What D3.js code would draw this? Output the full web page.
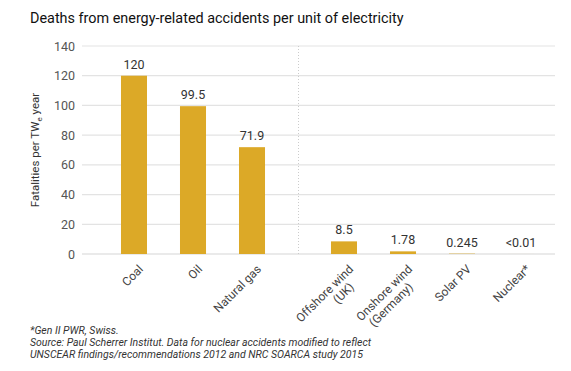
<!DOCTYPE html>
<html>
<head>
<meta charset="utf-8">
<script src="https://cdn.jsdelivr.net/npm/d3@7"></script>
<style>
  body { margin: 0; background: #fff; }
  svg { font-family: Roboto, "Noto Sans", sans-serif; }
</style>
</head>
<body>
<svg id="chart" width="571" height="371"></svg>
<script>
// fossil and renewable/nuclear groups, split by the dotted line
const groupA = ["Coal", "Oil", "Natural gas"];
const groupB = ["Offshore wind\n(UK)", "Onshore wind\n(Germany)", "Solar PV", "Nuclear*"];
const valuesA = [120, 99.5, 71.9];
const valuesB = [8.5, 1.78, 0.245, 0.01];
const labelsA = ["120", "99.5", "71.9"];
const labelsB = ["8.5", "1.78", "0.245", "<0.01"];
const yTicks = [0, 20, 40, 60, 80, 100, 120, 140];

const svg = d3.select("#chart");
const barColor = "#dca927";

const y = d3.scaleLinear().domain([0, 140]).range([254, 46]);
const xA = d3.scaleBand().domain(groupA).range([88, 298]).padding(0.559);
const xB = d3.scaleBand().domain(groupB).range([298, 567]).padding(0.559);

svg.append("text")
    .attr("x", 30).attr("y", 23)
    .attr("font-size", 14.4).attr("fill", "#111")
    .text("Deaths from energy-related accidents per unit of electricity");

// grid + y axis labels
const yAxis = d3.axisLeft(y).tickValues(yTicks).tickSize(0).tickPadding(7);
const gy = svg.append("g").attr("transform", "translate(82,0)").call(yAxis);
gy.select(".domain").remove();
gy.selectAll("text").attr("font-size", 12.5).attr("fill", "#555").attr("font-family", "Roboto");
svg.append("g").selectAll("line").data(yTicks).join("line")
    .attr("x1", 82).attr("x2", 555)
    .attr("y1", d => y(d)).attr("y2", d => y(d))
    .attr("stroke", d => d === 0 ? "#d6d6d6" : "#e3e3e3").attr("stroke-width", 1.2);

svg.append("line")
    .attr("x1", 298.5).attr("x2", 298.5).attr("y1", y(140)).attr("y2", y(0))
    .attr("stroke", "#ccc").attr("stroke-dasharray", "1,2");

const yl = svg.append("text")
    .attr("transform", "translate(39,150) rotate(-90)")
    .attr("text-anchor", "middle").attr("font-size", 11.5).attr("fill", "#333");
yl.append("tspan").text("Fatalities per TW");
yl.append("tspan").attr("font-size", 8).attr("dy", 3).text("e");
yl.append("tspan").attr("dy", -3).text(" year");

function drawGroup(x, cats, vals, labels) {
  const g = svg.append("g");
  g.selectAll("rect").data(cats).join("rect")
      .attr("x", d => x(d)).attr("width", x.bandwidth())
      .attr("y", (d, i) => y(vals[i]))
      .attr("height", (d, i) => y(0) - y(vals[i]))
      .attr("fill", barColor);
  g.selectAll(".val").data(cats).join("text")
      .attr("class", "val")
      .attr("x", d => x(d) + x.bandwidth() / 2)
      .attr("y", (d, i) => y(vals[i]) - 7)
      .attr("text-anchor", "middle").attr("font-size", 12.5).attr("fill", "#333")
      .text((d, i) => labels[i]);
  const lab = g.selectAll(".cat").data(cats).join("text")
      .attr("class", "cat")
      .attr("transform", d => `translate(${x(d) + x.bandwidth() / 2 + 4},264) rotate(-45)`)
      .attr("text-anchor", "end").attr("font-size", 12).attr("fill", "#444");
  lab.each(function (d) {
    const t = d3.select(this);
    d.split("\n").forEach((l, i) => {
      t.append("tspan").attr("x", 0).attr("dy", i === 0 ? "0.7em" : "1.1em")
        .attr("dx", i === 0 ? 0 : -12)
        .text(l);
    });
  });
}
drawGroup(xA, groupA, valuesA, labelsA);
drawGroup(xB, groupB, valuesB, labelsB);

const notes = ["*Gen II PWR, Swiss.",
  "Source: Paul Scherrer Institut. Data for nuclear accidents modified to reflect",
  "UNSCEAR findings/recommendations 2012 and NRC SOARCA study 2015"];
svg.append("g").selectAll("text").data(notes).join("text")
    .attr("x", 30).attr("y", (d, i) => 334 + i * 12)
    .attr("font-size", 10.5).attr("font-style", "italic").attr("fill", "#333")
    .text(d => d);
</script>
</body>
</html>
